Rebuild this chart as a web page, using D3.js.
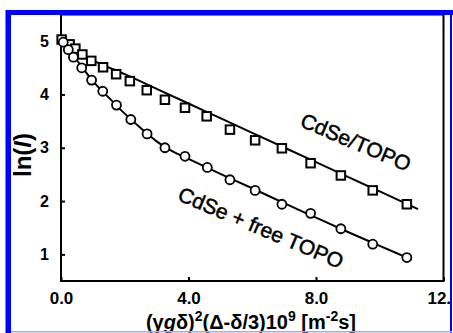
<!DOCTYPE html>
<html><head><meta charset="utf-8">
<script src="https://cdn.jsdelivr.net/npm/d3@7"></script>
<style>html,body{margin:0;padding:0;background:#fff;}svg{display:block;}</style>
</head><body>
<svg id="c" width="453" height="333"></svg>
<script>
// ---- data ----
const xTicks = [0, 4, 8, 12];
const xTickLabels = ["0.0", "4.0", "8.0", "12.0"];
const yTicks = [1, 2, 3, 4, 5];

// CdSe/TOPO (squares)
const sqX = [0.02, 0.27, 0.45, 0.67, 0.95, 1.32, 1.73, 2.16, 2.69, 3.26, 3.89, 4.57, 5.30, 6.09, 6.93, 7.83, 8.78, 9.78, 10.85];
const sqY = [5.03, 4.94, 4.86, 4.75, 4.63, 4.51, 4.38, 4.25, 4.08, 3.90, 3.75, 3.59, 3.34, 3.14, 2.99, 2.71, 2.48, 2.20, 1.94];
const sqFitX = [0, 0.5, 1, 2, 3, 4, 5, 6, 7, 8, 9, 10, 11.2];
const sqFitY = [5.02, 4.80, 4.64, 4.38, 4.105, 3.83, 3.555, 3.28, 3.005, 2.73, 2.455, 2.18, 1.85];

// CdSe + free TOPO (circles)
const ciX = [0.07, 0.23, 0.39, 0.65, 0.96, 1.31, 1.74, 2.19, 2.70, 3.26, 3.89, 4.59, 5.30, 6.09, 6.93, 7.83, 8.78, 9.78, 10.85];
const ciY = [4.98, 4.84, 4.70, 4.50, 4.27, 4.06, 3.80, 3.53, 3.26, 3.00, 2.84, 2.63, 2.40, 2.20, 1.94, 1.77, 1.48, 1.19, 0.94];
const ciFitX = [0, 0.25, 0.5, 1.0, 1.5, 2.0, 2.5, 3.0, 3.5, 4.0, 5.0, 6.0, 7.0, 8.0, 9.0, 10.0, 11.0];
const ciFitY = [5.0, 4.82, 4.64, 4.25, 3.94, 3.64, 3.37, 3.12, 2.93, 2.79, 2.51, 2.24, 1.96, 1.69, 1.42, 1.16, 0.90];

const labelA = "CdSe/TOPO";
const labelB = "CdSe + free TOPO";

// ---- drawing ----
const svg = d3.select("#c");
const font = "'Liberation Sans', Arial, Helvetica, sans-serif";

const x = d3.scaleLinear().domain([0, 12]).range([61, 443.5]);
const y = d3.scaleLinear().domain([0.5, 5.5]).range([281, 14.5]);

// axes
const gx = svg.append("g").attr("transform", "translate(0,281)")
  .call(d3.axisBottom(x).tickValues(xTicks).tickFormat((d, i) => xTickLabels[i])
    .tickSize(-4).tickSizeOuter(0).tickPadding(11));
const gy = svg.append("g").attr("transform", "translate(61,0)")
  .call(d3.axisLeft(y).tickValues(yTicks).tickFormat(d3.format("d"))
    .tickSize(-4).tickSizeOuter(0).tickPadding(12));
[gx, gy].forEach(g => {
  g.select(".domain").remove();
  g.selectAll(".tick line").attr("stroke", "#000").attr("stroke-width", 2);
  g.selectAll(".tick text").attr("fill", "#000").style("font-family", font)
    .style("font-weight", "bold");
});
gx.selectAll(".tick text").style("font-size", "17px");
gy.selectAll(".tick text").style("font-size", "16px");

// frame
svg.append("rect").attr("x", x(0)).attr("y", y(5.5))
  .attr("width", x(12) - x(0)).attr("height", y(0.5) - y(5.5))
  .attr("fill", "none").attr("stroke", "#000").attr("stroke-width", 2);

// fit lines
const line = d3.line().x(d => x(d[0])).y(d => y(d[1])).curve(d3.curveMonotoneX);
svg.append("path").datum(sqFitX.map((v, i) => [v, sqFitY[i]]))
  .attr("d", line).attr("fill", "none").attr("stroke", "#000").attr("stroke-width", 2);
svg.append("path").datum(ciFitX.map((v, i) => [v, ciFitY[i]]))
  .attr("d", line).attr("fill", "none").attr("stroke", "#000").attr("stroke-width", 2);

// squares
const s = 8.5;
svg.append("g").selectAll("rect").data(sqX.map((v, i) => [v, sqY[i]])).join("rect")
  .attr("x", d => x(d[0]) - s / 2).attr("y", d => y(d[1]) - s / 2)
  .attr("width", s).attr("height", s)
  .attr("fill", "#fff").attr("stroke", "#000").attr("stroke-width", 2);

// circles
svg.append("g").selectAll("circle").data(ciX.map((v, i) => [v, ciY[i]])).join("circle")
  .attr("cx", d => x(d[0])).attr("cy", d => y(d[1])).attr("r", 4.5)
  .attr("fill", "#fff").attr("stroke", "#000").attr("stroke-width", 1.8);

// annotations
[[labelA, 356, 142], [labelB, 261, 227.5]].forEach(([t, cx, cy]) => {
  svg.append("text").attr("transform", `translate(${cx},${cy}) rotate(23)`)
    .attr("text-anchor", "middle").attr("dominant-baseline", "central")
    .attr("stroke", "#000").attr("stroke-width", 0.5)
    .style("font-family", font).style("font-size", "21px").text(t);
});

// y title
const yt = svg.append("text").attr("transform", "translate(31,155) rotate(-90)")
  .attr("text-anchor", "middle")
  .style("font-family", font).style("font-size", "24px").style("font-weight", "bold");
yt.append("tspan").text("ln(");
yt.append("tspan").style("font-style", "italic").text("I");
yt.append("tspan").text(")");

// x title
const xt = svg.append("text").attr("x", 251).attr("y", 329)
  .attr("text-anchor", "middle")
  .style("font-family", font).style("font-size", "20px").style("font-weight", "bold");
xt.append("tspan").text("(γ");
xt.append("tspan").style("font-style", "italic").text("g");
xt.append("tspan").text("δ)");
xt.append("tspan").attr("dy", -8).style("font-size", "14px").text("2");
xt.append("tspan").attr("dy", 8).text("(Δ-δ/3)10");
xt.append("tspan").attr("dy", -8).style("font-size", "14px").text("9");
xt.append("tspan").attr("dy", 8).text(" [m");
xt.append("tspan").attr("dy", -8).style("font-size", "14px").text("-2");
xt.append("tspan").attr("dy", 8).text("s]");

// blue frame
svg.append("rect").attr("x", 452).attr("y", 0).attr("width", 1).attr("height", 333).attr("fill", "#fff");
svg.append("rect").attr("x", 6).attr("y", 10).attr("width", 447).attr("height", 5).attr("fill", "#0000ff");
svg.append("rect").attr("x", 5.5).attr("y", 10).attr("width", 5.5).attr("height", 323).attr("fill", "#0000ff");
svg.append("rect").attr("x", 450).attr("y", 15).attr("width", 2).attr("height", 318).attr("fill", "#0000ff");
svg.append("rect").attr("x", 11).attr("y", 331).attr("width", 441).attr("height", 1.5).attr("fill", "#a8a8ff");
</script>
</body></html>
